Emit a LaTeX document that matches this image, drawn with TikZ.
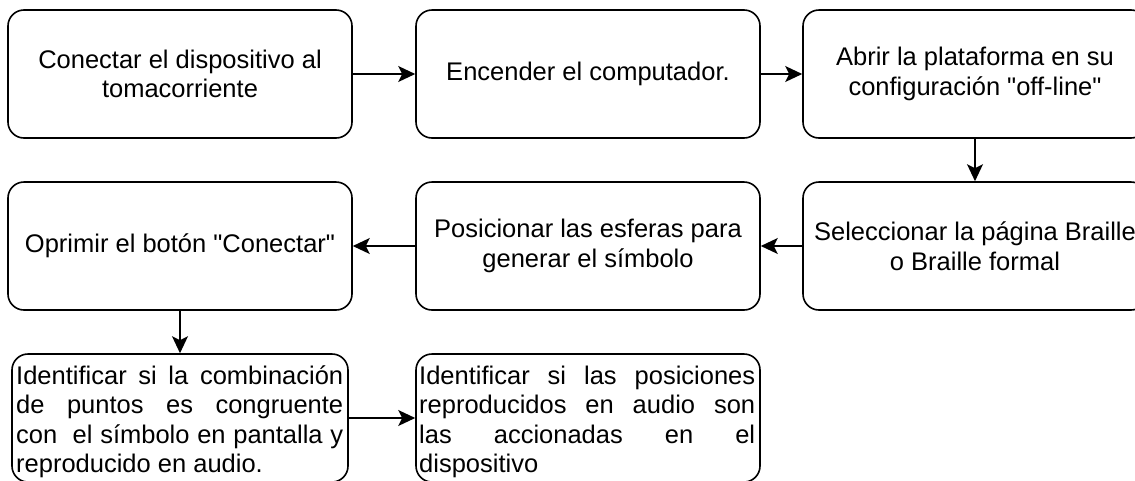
\documentclass[tikz,border=0pt]{standalone}
\usepackage{fontspec}
\setmainfont{Liberation Sans}[Ligatures=TeXOff]
\usetikzlibrary{arrows.meta}
\newcommand{\jline}[1]{\makebox[\linewidth][s]{#1}}
\begin{document}
\begin{tikzpicture}[x=1pt,y=-1pt,
  txt/.style={font=\fontsize{25.5}{29.5}\selectfont},
  box/.style={draw, line width=1.6pt, rounded corners=16pt, minimum width=344pt,
    minimum height=128pt, inner sep=0pt, align=center, txt},
  arr/.style={-{Stealth[length=17pt,width=16pt,inset=4pt]}, line width=1.4pt}]
\useasboundingbox (0,0) rectangle (1135,480);
\clip (0,0) rectangle (1135,480);
\node[box] (b1) at (180,74) {Conectar el dispositivo al\\tomacorriente};
\node[box] (b2) at (588,74) {Encender el computador.};
\node[box] (b3) at (975,74) {Abrir la plataforma en su\\configuración "off-line"};
\node[box] (b4) at (975,246) {Seleccionar la página Braille\\o Braille formal};
\node[box] (b5) at (588,246) {Posicionar las esferas para\\generar el símbolo};
\node[box] (b6) at (180,246) {Oprimir el botón "Conectar"};
\node[box, minimum width=336pt] (b7) at (180,418) {};
\node[box] (b8) at (588,418) {};
\node[txt, anchor=base west, inner sep=0pt] (t7) at (16,384)
  {\parbox[t]{327pt}{\jline{Identificar si la combinación}\\
   \jline{de puntos es congruente}\\
   \jline{con\ \ el símbolo en pantalla y}\\
   reproducido en audio.}};
\node[txt, anchor=base west, inner sep=0pt] (t8) at (419,384)
  {\parbox[t]{336pt}{\jline{Identificar si las posiciones}\\
   \jline{reproducidos en audio son}\\
   \jline{las accionadas en el}\\
   dispositivo}};
\draw[arr] (b1) -- (b2);
\draw[arr] (b2) -- (b3);
\draw[arr] (b3) -- (b4);
\draw[arr] (b4) -- (b5);
\draw[arr] (b5) -- (b6);
\draw[arr] (b6) -- (b7);
\draw[arr] (b7) -- (b8);
\end{tikzpicture}
\end{document}
